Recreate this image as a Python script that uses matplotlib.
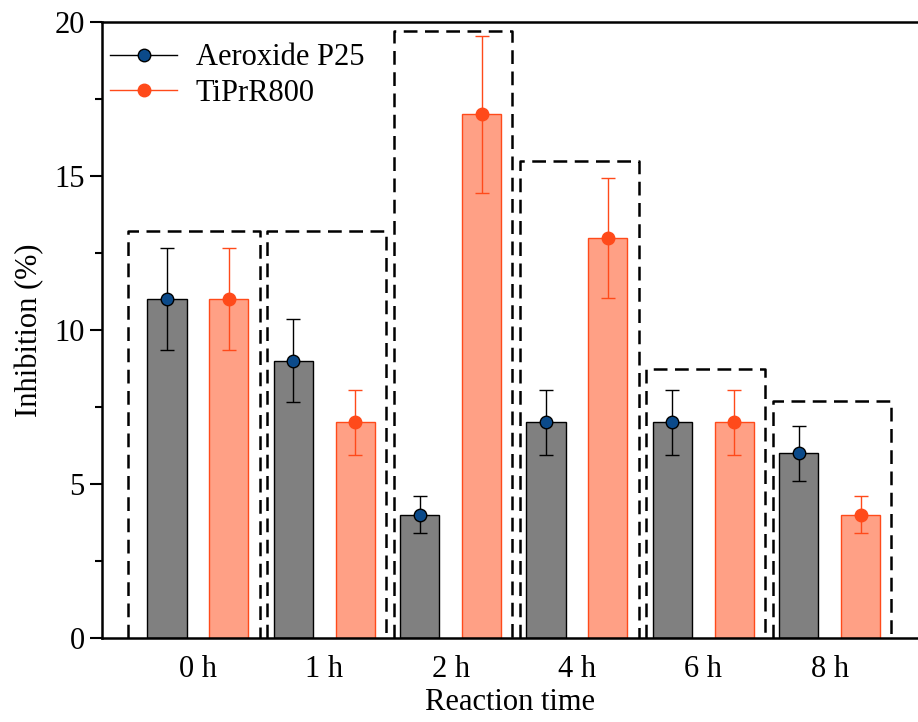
#!/usr/bin/env python3
"""
Inhibición vs tiempo de reacción - Aeroxide P25 / TiPrR800
"""

import numpy as np
import matplotlib
matplotlib.use("Agg")
import matplotlib.pyplot as plt
from matplotlib.lines import Line2D
from matplotlib.ticker import MultipleLocator

# Datos
categorias = ["0 h", "1 h", "2 h", "4 h", "6 h", "8 h"]
p25 = [11, 9, 4, 7, 7, 6]
p25_err = [1.65, 1.35, 0.6, 1.05, 1.05, 0.9]
tiprr = [11, 7, 17, 13, 7, 4]
tiprr_err = [1.65, 1.05, 2.55, 1.95, 1.05, 0.6]
cajas = [13.2, 13.2, 19.7, 15.5, 8.75, 7.7]

plt.rcParams['font.family'] = ['Liberation Serif', 'DejaVu Serif']
plt.rcParams['font.size'] = 22

fig = plt.figure(figsize=(9.18, 7.22), dpi=100)
ax = fig.add_axes([0.111, 0.1163, 0.889, 0.8532])

x = np.arange(len(categorias))
off = 0.245
w = 0.31

ax.bar(x - off, p25, w, color='#808080', edgecolor='black', linewidth=1, zorder=2)
ax.bar(x + off, tiprr, w, color='#FFA085', edgecolor='#FF4A1A', linewidth=1, zorder=2)

ax.errorbar(x - off, p25, yerr=p25_err, fmt='o', color='black', mfc='#0B4A8A',
            mec='black', ms=9, elinewidth=1, capsize=5, capthick=1, zorder=4)
ax.errorbar(x + off, tiprr, yerr=tiprr_err, fmt='o', color='#FF4A1A', mfc='#FF4A1A',
            mec='#FF4A1A', ms=9, elinewidth=1, capsize=5, capthick=1, zorder=4)

# cajas punteadas alrededor de cada grupo
for i, top in enumerate(cajas):
    left = i - (0.55 if i == 0 else 0.45)
    right = i + 0.49
    ax.plot([left, left, right, right], [0, top, top, 0], color='black',
            linestyle=(0, (5.5, 3)), linewidth=1.8, zorder=3, clip_on=False)

ax.set_xlim(-0.76, 5.70)
ax.set_ylim(0, 20)
ax.set_xticks(x)
ax.set_xticklabels(categorias)
ax.tick_params(axis='x', length=0, pad=12)
ax.yaxis.set_major_locator(MultipleLocator(5))
ax.yaxis.set_minor_locator(MultipleLocator(2.5))
ax.tick_params(axis='y', which='major', length=9, width=1.5, direction='out')
ax.tick_params(axis='y', which='minor', length=5, width=1.5, direction='out')

for s in ['left', 'bottom', 'top']:
    ax.spines[s].set_linewidth(1.8)
ax.spines['right'].set_visible(False)

ax.set_xlabel("Reaction time", labelpad=3)
ax.set_ylabel("Inhibition (%)", labelpad=7)

handles = [
    Line2D([], [], color='black', lw=1, marker='o', ms=9, mfc='#0B4A8A', mec='black'),
    Line2D([], [], color='#FF4A1A', lw=1, marker='o', ms=9, mfc='#FF4A1A', mec='#FF4A1A'),
]
ax.legend(handles, ["Aeroxide P25", "TiPrR800"], loc='upper left', frameon=False,
          handlelength=2.2, borderaxespad=0.0, labelspacing=0.2, handletextpad=0.6,
          bbox_to_anchor=(-0.005, 0.985))

fig.savefig("out.png", dpi=100)
